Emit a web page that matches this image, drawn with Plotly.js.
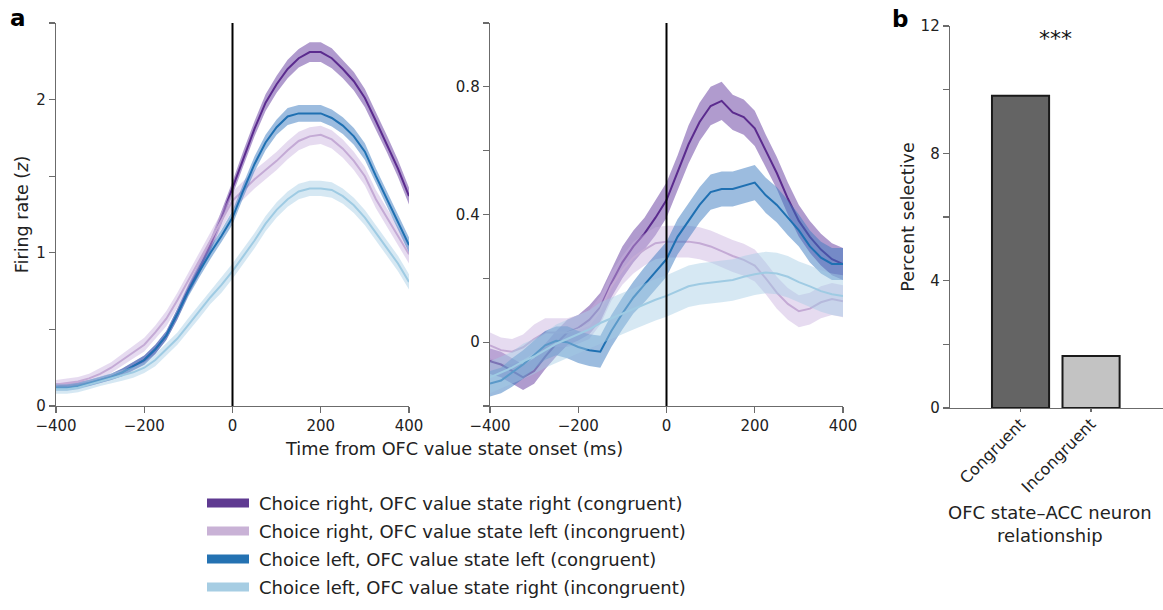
<!DOCTYPE html>
<html>
<head>
<meta charset="utf-8">
<script src="https://cdn.plot.ly/plotly-3.0.1.min.js"></script>
<style>html,body{margin:0;padding:0;background:#fff;}#chart{width:1163px;height:610px;}</style>
</head>
<body>
<div id="chart"></div>
<script>
// ---------- DATA ----------
const timeMs = [-400,-375,-350,-325,-300,-275,-250,-225,-200,-175,-150,-125,-100,-75,-50,-25,0,25,50,75,100,125,150,175,200,225,250,275,300,325,350,375,400];

const seriesNames = [
  'Choice right, OFC value state right (congruent)',
  'Choice right, OFC value state left (incongruent)',
  'Choice left, OFC value state left (congruent)',
  'Choice left, OFC value state right (incongruent)'
];

// Panel 1 (left) mean firing rate (z)
const p1RightCong   = [0.13,0.13,0.14,0.15,0.17,0.19,0.22,0.26,0.30,0.37,0.46,0.60,0.76,0.90,1.05,1.23,1.42,1.62,1.81,1.98,2.10,2.20,2.27,2.31,2.31,2.27,2.20,2.12,2.01,1.86,1.71,1.55,1.37];
const p1RightIncong = [0.14,0.15,0.16,0.18,0.21,0.25,0.30,0.35,0.40,0.48,0.57,0.69,0.82,0.95,1.08,1.21,1.34,1.41,1.48,1.54,1.60,1.67,1.73,1.76,1.77,1.74,1.68,1.60,1.50,1.35,1.23,1.11,0.99];
const p1LeftCong    = [0.12,0.12,0.13,0.15,0.17,0.19,0.22,0.26,0.30,0.37,0.46,0.60,0.75,0.88,1.00,1.11,1.23,1.41,1.58,1.72,1.82,1.89,1.91,1.91,1.91,1.88,1.83,1.76,1.66,1.50,1.35,1.20,1.05];
const p1LeftIncong  = [0.11,0.11,0.12,0.14,0.16,0.18,0.20,0.22,0.25,0.30,0.37,0.44,0.53,0.62,0.71,0.79,0.88,0.98,1.08,1.19,1.28,1.35,1.40,1.42,1.42,1.41,1.37,1.31,1.23,1.13,1.03,0.93,0.81];
// Panel 1 s.e.m.
const p1RightCongSem   = [0.02,0.02,0.02,0.02,0.02,0.02,0.025,0.025,0.03,0.03,0.03,0.035,0.035,0.04,0.04,0.045,0.045,0.05,0.05,0.055,0.055,0.06,0.06,0.065,0.065,0.065,0.06,0.06,0.06,0.06,0.055,0.055,0.055];
const p1RightIncongSem = [0.03,0.03,0.03,0.03,0.035,0.035,0.04,0.04,0.045,0.045,0.05,0.05,0.05,0.055,0.055,0.055,0.06,0.06,0.06,0.06,0.06,0.06,0.06,0.06,0.06,0.06,0.06,0.06,0.06,0.06,0.06,0.06,0.06];
const p1LeftCongSem    = [0.02,0.02,0.02,0.02,0.02,0.02,0.025,0.025,0.03,0.03,0.03,0.035,0.035,0.04,0.04,0.04,0.045,0.045,0.05,0.05,0.05,0.055,0.055,0.055,0.055,0.055,0.055,0.055,0.055,0.05,0.05,0.05,0.05];
const p1LeftIncongSem  = [0.03,0.03,0.03,0.03,0.03,0.03,0.035,0.035,0.035,0.04,0.04,0.04,0.045,0.045,0.045,0.05,0.05,0.05,0.05,0.05,0.05,0.05,0.05,0.05,0.05,0.05,0.05,0.05,0.05,0.05,0.05,0.05,0.05];

// Panel 2 (middle) mean firing rate (z)
const p2RightCong   = [-0.06,-0.07,-0.09,-0.11,-0.09,-0.045,-0.005,0.03,0.045,0.07,0.11,0.185,0.25,0.30,0.34,0.39,0.445,0.53,0.62,0.69,0.74,0.756,0.72,0.705,0.67,0.60,0.53,0.45,0.38,0.33,0.29,0.26,0.245];
const p2RightIncong = [-0.01,-0.025,-0.03,-0.016,0.01,0.03,0.03,0.03,0.04,0.055,0.10,0.175,0.225,0.265,0.29,0.31,0.315,0.315,0.315,0.31,0.30,0.285,0.27,0.258,0.24,0.20,0.155,0.12,0.097,0.105,0.125,0.135,0.128];
const p2LeftCong    = [-0.13,-0.12,-0.095,-0.07,-0.04,-0.01,0.004,0.0,-0.015,-0.025,-0.03,0.035,0.09,0.14,0.18,0.22,0.26,0.33,0.38,0.43,0.47,0.48,0.48,0.49,0.50,0.46,0.43,0.39,0.35,0.30,0.265,0.245,0.245];
const p2LeftIncong  = [-0.11,-0.095,-0.08,-0.06,-0.045,-0.025,-0.005,0.01,0.025,0.04,0.06,0.075,0.09,0.105,0.12,0.133,0.145,0.16,0.175,0.182,0.186,0.19,0.195,0.205,0.213,0.218,0.215,0.205,0.188,0.175,0.16,0.15,0.145];
// Panel 2 s.e.m.
const p2RightCongSem   = [0.04,0.04,0.04,0.04,0.04,0.04,0.04,0.04,0.04,0.045,0.045,0.045,0.05,0.05,0.05,0.055,0.055,0.055,0.06,0.06,0.06,0.06,0.055,0.055,0.055,0.05,0.05,0.05,0.05,0.05,0.05,0.05,0.05];
const p2RightIncongSem = [0.04,0.04,0.04,0.04,0.045,0.045,0.045,0.045,0.045,0.045,0.045,0.045,0.045,0.05,0.05,0.05,0.05,0.05,0.05,0.05,0.05,0.05,0.05,0.05,0.05,0.05,0.05,0.05,0.05,0.05,0.05,0.05,0.05];
const p2LeftCongSem    = [0.04,0.04,0.045,0.045,0.045,0.045,0.045,0.05,0.05,0.05,0.05,0.05,0.05,0.05,0.055,0.055,0.055,0.055,0.055,0.055,0.055,0.055,0.055,0.055,0.055,0.055,0.055,0.055,0.05,0.05,0.05,0.05,0.05];
const p2LeftIncongSem  = [0.05,0.05,0.05,0.055,0.055,0.055,0.06,0.06,0.06,0.06,0.065,0.065,0.065,0.065,0.065,0.065,0.065,0.065,0.065,0.065,0.065,0.065,0.065,0.065,0.065,0.065,0.065,0.065,0.065,0.065,0.065,0.065,0.065];

// Panel b
const barCategories = ['Congruent','Incongruent'];
const barValues = [9.81, 1.63];
const sigLabel = '***';

// Tick labels
const timeTickVals = [-400,-200,0,200,400];
const timeTickText = ['\u2212400','\u2212200','0','200','400'];
const p1TickVals = [0,0.5,1,1.5,2,2.5];
const p1TickText = ['0','','1','','2',''];
const p2TickVals = [-0.2,0,0.2,0.4,0.6,0.8,1.0];
const p2TickText = ['','0','','0.4','','0.8',''];
const p3TickVals = [0,2,4,6,8,10,12];
const p3TickText = ['0','','4','','8','','12'];

// ---------- STYLE ----------
const lineColors = ['#5b2b8e','#c4aad5','#1f70b2','#9fcbe3'];
const bandColors = ['rgba(112,72,165,0.55)','rgba(200,176,222,0.45)','rgba(58,122,192,0.5)','rgba(165,205,228,0.45)'];
const swatchColors = ['#5f3a91','#c9b2d6','#2472b2','#a6cde3'];
const FONT = 'DejaVu Sans, Liberation Sans, Arial, sans-serif';
const W = 1163, H = 610;
const px = x => x / W;
const py = y => 1 - y / H;

const traces = [];
function addPanel(means, sems, xa, ya) {
  means.forEach((m, i) => {
    const up = m.map((v, k) => v + sems[i][k]);
    const lo = m.map((v, k) => v - sems[i][k]);
    traces.push({
      x: timeMs.concat(timeMs.slice().reverse()),
      y: up.concat(lo.slice().reverse()),
      xaxis: xa, yaxis: ya, type: 'scatter', mode: 'lines',
      fill: 'toself', fillcolor: bandColors[i], line: {width: 0},
      hoverinfo: 'skip', showlegend: false
    });
    traces.push({
      x: timeMs, y: m, xaxis: xa, yaxis: ya, type: 'scatter', mode: 'lines',
      name: seriesNames[i], line: {color: lineColors[i], width: 2}, showlegend: false
    });
  });
}
addPanel([p1RightCong, p1RightIncong, p1LeftCong, p1LeftIncong],
         [p1RightCongSem, p1RightIncongSem, p1LeftCongSem, p1LeftIncongSem], 'x', 'y');
addPanel([p2RightCong, p2RightIncong, p2LeftCong, p2LeftIncong],
         [p2RightCongSem, p2RightIncongSem, p2LeftCongSem, p2LeftIncongSem], 'x2', 'y2');

traces.push({
  type: 'bar', x: barCategories, y: barValues, xaxis: 'x3', yaxis: 'y3',
  width: 0.81, marker: {color: ['#646464','#c3c3c3'], line: {color: '#1a1a1a', width: 2}},
  showlegend: false
});

const axisBase = {
  showline: true, linecolor: '#6b6b6b', linewidth: 1.3, ticks: 'outside', ticklen: 6,
  tickcolor: '#6b6b6b', tickwidth: 1.3, showgrid: false, zeroline: false,
  tickfont: {family: FONT, size: 15, color: '#222'}, fixedrange: true
};
const timeAxis = Object.assign({}, axisBase, {range: [-400, 400], tickmode: 'array', tickvals: timeTickVals, ticktext: timeTickText});

const layout = {
  width: W, height: H, margin: {l: 0, r: 0, t: 0, b: 0},
  paper_bgcolor: '#fff', plot_bgcolor: 'rgba(0,0,0,0)',
  font: {family: FONT, color: '#222'},
  showlegend: false,
  xaxis: Object.assign({}, timeAxis, {domain: [px(56), px(409)], anchor: 'y'}),
  yaxis: Object.assign({}, axisBase, {domain: [py(406), py(23)], range: [0, 2.5], anchor: 'x',
    tickmode: 'array', tickvals: p1TickVals, ticktext: p1TickText,
    title: {text: 'Firing rate (<i>z</i>)', font: {family: FONT, size: 17.5, color: '#222'}, standoff: 3}}),
  xaxis2: Object.assign({}, timeAxis, {domain: [px(490), px(843)], anchor: 'y2'}),
  yaxis2: Object.assign({}, axisBase, {domain: [py(406), py(23)], range: [-0.2, 1.0], anchor: 'x2',
    tickmode: 'array', tickvals: p2TickVals, ticktext: p2TickText}),
  xaxis3: Object.assign({}, axisBase, {domain: [px(950), 1], anchor: 'y3', type: 'category',
    range: [-1, 2.02], tickangle: -45, ticklen: 3, ticklabelstandoff: -4,
    tickfont: {family: FONT, size: 16, color: '#222'}}),
  yaxis3: Object.assign({}, axisBase, {domain: [py(408), py(26)], range: [0, 12], anchor: 'x3',
    tickmode: 'array', tickvals: p3TickVals, ticktext: p3TickText,
    title: {text: 'Percent selective', font: {family: FONT, size: 17.5, color: '#222'}, standoff: 1}}),
  shapes: [
    {type: 'line', xref: 'x', yref: 'y domain', x0: 0, x1: 0, y0: 0, y1: 1, line: {color: '#000', width: 2}},
    {type: 'line', xref: 'x2', yref: 'y2 domain', x0: 0, x1: 0, y0: 0, y1: 1, line: {color: '#000', width: 2}}
  ],
  annotations: [
    {text: '<b>a</b>', xref: 'paper', yref: 'paper', x: px(18), y: py(18), showarrow: false,
     font: {family: FONT, size: 23, color: '#000'}, xanchor: 'center', yanchor: 'middle'},
    {text: '<b>b</b>', xref: 'paper', yref: 'paper', x: px(900), y: py(19), showarrow: false,
     font: {family: FONT, size: 23, color: '#000'}, xanchor: 'center', yanchor: 'middle'},
    {text: sigLabel, xref: 'x3', yref: 'y3', x: 0.5, y: 11.6, showarrow: false,
     font: {family: FONT, size: 22, color: '#111'}, xanchor: 'center', yanchor: 'middle'},
    {text: 'Time from OFC value state onset (ms)', xref: 'paper', yref: 'paper', x: px(454), y: py(449),
     showarrow: false, font: {family: FONT, size: 17.7, color: '#222'}, xanchor: 'center', yanchor: 'middle'},
    {text: 'OFC state\u2013ACC neuron<br>relationship', xref: 'paper', yref: 'paper', x: px(1050), y: py(524),
     showarrow: false, font: {family: FONT, size: 18, color: '#222'}, xanchor: 'center', yanchor: 'middle'}
  ]
};

// custom legend (thick swatches)
const legendRows = [503, 531, 559, 587];
seriesNames.forEach((nm, i) => {
  layout.shapes.push({type: 'rect', xref: 'paper', yref: 'paper', x0: px(207), x1: px(249),
    y0: py(legendRows[i] + 4.5), y1: py(legendRows[i] - 4.5), fillcolor: swatchColors[i], line: {width: 0}});
  layout.annotations.push({text: nm, xref: 'paper', yref: 'paper', x: px(257), y: py(legendRows[i]),
    showarrow: false, xanchor: 'left', yanchor: 'middle', font: {family: FONT, size: 18, color: '#222'}});
});

Plotly.newPlot('chart', traces, layout, {displayModeBar: false, staticPlot: true});
</script>
</body>
</html>
